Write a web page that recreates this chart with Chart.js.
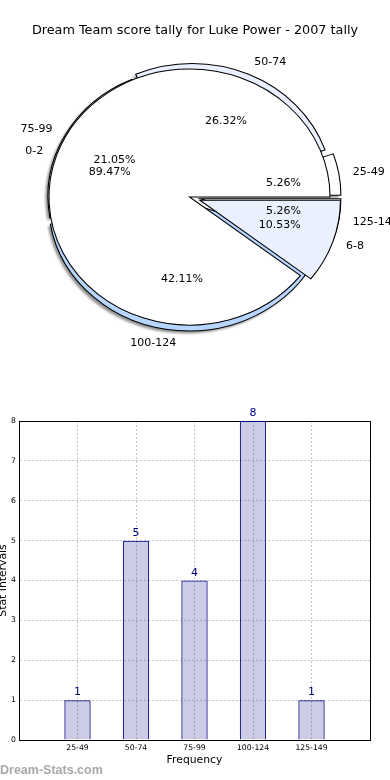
<!DOCTYPE html>
<html>
<head>
<meta charset="utf-8">
<script src="https://cdn.jsdelivr.net/npm/chart.js@4.4.1/dist/chart.umd.min.js"></script>
<style>
  html, body { margin: 0; padding: 0; background: #fff; }
  body { width: 390px; height: 780px; position: relative; overflow: hidden; font-family: "DejaVu Sans", sans-serif; }
  #pieBox { position: absolute; left: 0; top: 0; width: 390px; height: 394px; }
  #barBox { position: absolute; left: 0; top: 395px; width: 390px; height: 385px; }
  #title { position: absolute; left: 0; top: 22px; width: 390px; text-align: center; font-size: 12.8px; line-height: 15px; color: #000; }
  #mark { position: absolute; left: 0; top: 763px; font-family: "Liberation Sans", sans-serif; font-weight: bold; font-size: 12.5px; line-height: 14px; color: #a8a8a8; }
</style>
</head>
<body>
<div id="pieBox"><canvas id="pieChart"></canvas></div>
<div id="barBox"><canvas id="barChart"></canvas></div>
<div id="title">Dream Team score tally for Luke Power - 2007 tally</div>
<div id="mark">Dream-Stats.com</div>
<script>
// data
const intervals = ['25-49', '50-74', '75-99', '100-124', '125-149'];
const tally = [1, 5, 4, 8, 1];
const rangeLabels = ['0-2', '6-8'];
const rangeTally = [17, 2];

// pie looks
const intervalColours = ['#ffffff', '#eaf0ff', '#ffffff', '#b7d6ff', '#ffffff'];
const rangeColours = ['#ffffff', '#eaf0fd'];
const intervalExplode = [10, 6, 1, 6, 10];
const rangeExplode = [0, 10];
const RADIUS = 128;     // vertical radius in px
const STRETCH = 1.098;  // pie is an ellipse, wider than tall

function centre(chart) {
    const a = chart.chartArea;
    return [(a.left + a.right) / 2, (a.top + a.bottom) / 2];
}

// both pies drawn on top of each other, same size, stretched, counter-clockwise
const ellipsePie = {
    id: 'ellipsePie',
    afterDatasetsUpdate(chart) {
        const [cx, cy] = centre(chart);
        chart.data.datasets.forEach((ds, d) => {
            const shift = ds.shift || [0, 0];
            chart.getDatasetMeta(d).data.forEach((arc, i) => {
                const mid = (arc.startAngle + arc.endAngle) / 2;
                const e = ds.explode[i];
                arc.x = cx + Math.cos(mid) * e + shift[0] / STRETCH;
                arc.y = cy + Math.sin(mid) * e - shift[1];
                arc.innerRadius = 0;
                arc.outerRadius = RADIUS;
            });
        });
    },
    beforeDatasetsDraw(chart) {
        const ctx = chart.ctx;
        const [cx, cy] = centre(chart);
        ctx.save();
        ctx.translate(cx, cy);
        ctx.scale(STRETCH, -1);
        ctx.translate(-cx, -cy);
    },
    beforeDatasetDraw(chart, args) {
        const ctx = chart.ctx;
        ctx.save();
        if (chart.data.datasets[args.index].shift) ctx.filter = 'blur(1px)';
    },
    afterDatasetDraw(chart) {
        chart.ctx.restore();
    },
    afterDatasetsDraw(chart) {
        const ctx = chart.ctx;
        ctx.restore();
        const [cx, cy] = centre(chart);
        ctx.save();
        ctx.font = '11px "DejaVu Sans"';
        ctx.fillStyle = '#000';
        ctx.textBaseline = 'middle';
        chart.data.datasets.forEach((ds, d) => {
            if (!ds.names) return;
            const total = ds.data.reduce((s, v) => s + v, 0);
            chart.getDatasetMeta(d).data.forEach((arc, i) => {
                const mid = (arc.startAngle + arc.endAngle) / 2;
                const at = r => [cx + (arc.x + Math.cos(mid) * r - cx) * STRETCH,
                                 cy - (arc.y + Math.sin(mid) * r - cy)];
                const [lx, ly] = at(RADIUS * 1.1);
                ctx.textAlign = Math.cos(mid) > 0 ? 'left' : 'right';
                ctx.fillText(ds.names[i], lx, ly);
                const [px, py] = at(RADIUS * 0.6);
                ctx.textAlign = 'center';
                ctx.fillText((ds.data[i] / total * 100).toFixed(2) + '%', px, py);
            });
        });
        ctx.restore();
    }
};

new Chart(document.getElementById('pieChart'), {
    type: 'pie',
    data: {
        labels: intervals,
        datasets: [
            // shadow of the big pie, slightly left and down
            { data: tally, explode: intervalExplode, shift: [-2.5, 2.5],
              backgroundColor: 'rgba(0,0,0,0.42)', borderWidth: 0, order: 3, clip: false },
            { data: tally, names: intervals, explode: intervalExplode,
              backgroundColor: intervalColours, borderColor: '#000', borderWidth: 1,
              borderJoinStyle: 'miter', order: 2, clip: false },
            { data: rangeTally, names: rangeLabels, explode: rangeExplode,
              backgroundColor: rangeColours, borderColor: '#000', borderWidth: 1,
              borderJoinStyle: 'miter', order: 1, clip: false }
        ]
    },
    options: {
        responsive: true,
        maintainAspectRatio: false,
        animation: false,
        events: [],
        rotation: 90,
        layout: { padding: { left: 0, right: 11, top: 0, bottom: 0 } },
        plugins: { legend: { display: false }, tooltip: { enabled: false } }
    },
    plugins: [ellipsePie]
});

// counts written above the bars
const valueLabels = {
    id: 'valueLabels',
    afterDatasetsDraw(chart) {
        const ctx = chart.ctx;
        ctx.save();
        ctx.font = '11px "DejaVu Sans"';
        ctx.fillStyle = '#000080';
        ctx.textAlign = 'center';
        ctx.textBaseline = 'alphabetic';
        chart.getDatasetMeta(0).data.forEach((bar, i) => {
            ctx.fillText(String(tally[i]), bar.x, bar.y - 5);
        });
        ctx.restore();
    }
};

const tickFont = { family: 'DejaVu Sans', size: 7.7 };
const gridGrey = '#c6c6c6';

new Chart(document.getElementById('barChart'), {
    type: 'bar',
    data: {
        datasets: [{
            data: tally.map((v, i) => ({ x: i + 1, y: v })),
            backgroundColor: 'rgba(0,0,128,0.2)',
            borderColor: '#000080',
            borderWidth: 1,
            barPercentage: 0.45,
            categoryPercentage: 1
        }]
    },
    options: {
        responsive: true,
        maintainAspectRatio: false,
        animation: false,
        events: [],
        layout: { padding: 0 },
        plugins: { legend: { display: false }, tooltip: { enabled: false } },
        scales: {
            x: {
                type: 'linear', position: 'bottom', min: 0, max: 6, offset: false,
                afterFit: s => { s.height = 40; },
                ticks: { stepSize: 1, autoSkip: false, maxRotation: 0, padding: 3, color: '#000', font: tickFont,
                         callback: v => intervals[v - 1] || '' },
                grid: { offset: false, drawTicks: false,
                        color: c => (c.tick && c.tick.value > 0 && c.tick.value < 6) ? gridGrey : 'rgba(0,0,0,0)' },
                border: { color: '#000', width: 1, dash: [2, 2] },
                title: { display: true, text: 'Frequency', color: '#000',
                         font: { family: 'DejaVu Sans', size: 10.8 }, padding: { top: 0, bottom: 13.5 } }
            },
            x2: {
                type: 'linear', position: 'top',
                afterFit: s => { s.height = 26; },
                ticks: { display: false }, grid: { display: false },
                border: { color: '#000', width: 1 }
            },
            y: {
                min: 0, max: 8,
                afterFit: s => { s.width = 19; },
                ticks: { stepSize: 1, padding: 3, color: '#000', font: tickFont },
                grid: { drawTicks: false,
                        color: c => (c.tick && c.tick.value > 0 && c.tick.value < 8) ? gridGrey : 'rgba(0,0,0,0)' },
                border: { color: '#000', width: 1, dash: [2, 2] },
                title: { display: true, text: 'Stat Intervals', color: '#000',
                         font: { family: 'DejaVu Sans', size: 10.8 }, padding: { top: -3, bottom: 0 } }
            },
            y2: {
                type: 'linear', position: 'right',
                afterFit: s => { s.width = 20; },
                ticks: { display: false }, grid: { display: false },
                border: { color: '#000', width: 1 }
            }
        }
    },
    plugins: [valueLabels]
});
</script>
</body>
</html>
